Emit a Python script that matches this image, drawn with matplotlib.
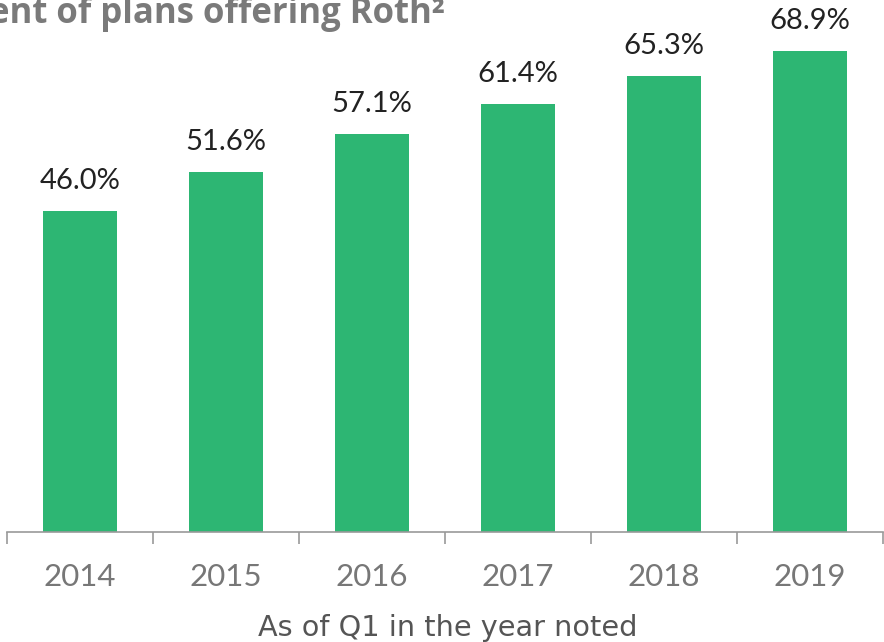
import matplotlib
matplotlib.use("Agg")
import matplotlib.pyplot as plt

years = ["2014", "2015", "2016", "2017", "2018", "2019"]
values = [46.0, 51.6, 57.1, 61.4, 65.3, 68.9]
labels = ["46.0%", "51.6%", "57.1%", "61.4%", "65.3%", "68.9%"]
title = "Percent of plans offering Roth²"
xlabel = "As of Q1 in the year noted"

W, H = 884, 642
fig = plt.figure(figsize=(W / 100, H / 100), dpi=100)
ax = fig.add_axes([7 / W, (H - 532) / H, 876 / W, 532 / H])

bar_color = "#2db673"
x = list(range(len(years)))
ax.bar(x, values, width=0.507, color=bar_color, zorder=2)

ax.set_xlim(-0.5, len(years) - 0.5)
ax.set_ylim(0, 532 / (321 / 46.0))

for xi, v, lab in zip(x, values, labels):
    ax.annotate(lab, (xi, v), xytext=(0, 22 * 0.72), textcoords="offset points",
                ha="center", va="baseline", fontsize=21, family="Lato",
                color="#222222")

for s in ["top", "right", "left"]:
    ax.spines[s].set_visible(False)
ax.spines["bottom"].set_color("#999999")
ax.spines["bottom"].set_linewidth(1.2)
ax.set_yticks([])

ax.set_xticks([i - 0.5 for i in range(len(years) + 1)])
ax.set_xticklabels([])
ax.tick_params(axis="x", which="major", length=8.5, width=1.2, color="#999999", direction="out")
ax.set_xticks(x, minor=True)
ax.set_xticklabels(years, minor=True, fontsize=22.5, family="Lato", color="#777777")
ax.tick_params(axis="x", which="minor", length=0, pad=22)

fig.text(447.5 / W, (H - 636) / H, xlabel, ha="center", va="baseline",
         fontsize=20.7, family="DejaVu Sans", color="#555555")
fig.text(445 / W, (H - 23) / H, title, ha="right", va="baseline",
         fontsize=25, family="Open Sans", fontweight="bold", color="#7a7a7a")

fig.savefig("out.png", dpi=100)
